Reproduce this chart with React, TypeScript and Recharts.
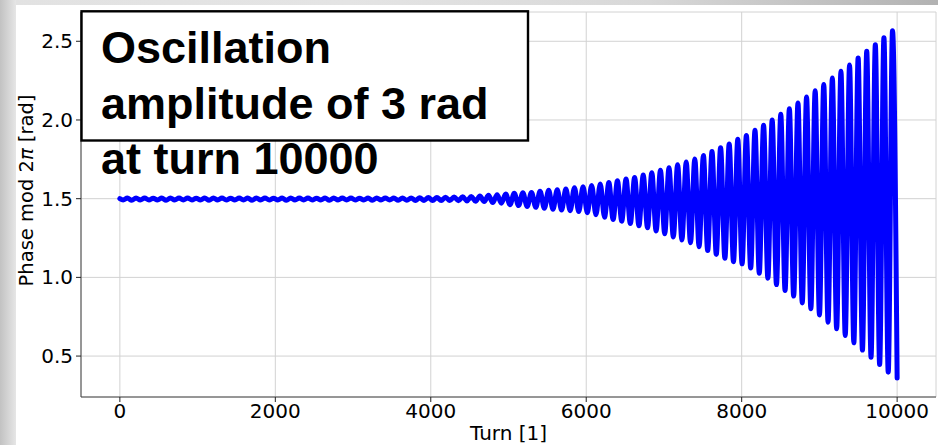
import React from "react";
import { LineChart, Line, XAxis, YAxis, CartesianGrid, Label } from "recharts";

// ---- data ----
const turnTicks = [0, 2000, 4000, 6000, 8000, 10000];
const phaseTicks = [0.5, 1.0, 1.5, 2.0, 2.5];

const START_TURN = 0;
const START_PHASE = 1.5;
const FIRST_TROUGH_TURN = 42;
const OSC_PERIOD_TURNS = 110.6;
const LAST_TURN = 10000;

// phase at each oscillation maximum (one per period)
const peakPhases = [
  1.504, 1.505, 1.504, 1.503, 1.504, 1.505, 1.504, 1.504, 1.503, 1.504,
  1.505, 1.504, 1.503, 1.504, 1.504, 1.505, 1.504, 1.503, 1.504, 1.505,
  1.504, 1.504, 1.503, 1.504, 1.505, 1.504, 1.504, 1.503, 1.504, 1.505,
  1.504,
  1.504, 1.505, 1.505, 1.506, 1.507, 1.508, 1.509, 1.511, 1.512, 1.514,
  1.517, 1.521, 1.525, 1.53, 1.534, 1.538, 1.54, 1.547, 1.553, 1.557,
  1.561, 1.57, 1.576, 1.584, 1.593,
  1.602, 1.614, 1.625, 1.635, 1.65, 1.665, 1.68, 1.697, 1.716, 1.733,
  1.752, 1.775, 1.799, 1.824, 1.848, 1.877,
  1.902, 1.934, 1.966, 2.0, 2.036, 2.072, 2.108, 2.146, 2.186, 2.226,
  2.267, 2.309, 2.349, 2.394, 2.436, 2.478, 2.523, 2.567,
];

// phase at each oscillation minimum (one per period, last one at turn 10000)
const troughPhases = [
  1.491, 1.49, 1.491, 1.492, 1.491, 1.49, 1.491, 1.491, 1.492, 1.491,
  1.49, 1.491, 1.492, 1.491, 1.491, 1.49, 1.491, 1.492, 1.491, 1.49,
  1.491, 1.491, 1.492, 1.491, 1.49, 1.491, 1.491, 1.492, 1.491, 1.49,
  1.491,
  1.491, 1.49, 1.49, 1.489, 1.489, 1.488, 1.488, 1.488, 1.487, 1.486,
  1.484,
  1.482, 1.475, 1.471, 1.462, 1.456, 1.45, 1.445, 1.439, 1.433, 1.428,
  1.424, 1.418, 1.411, 1.398,
  1.382, 1.368, 1.357, 1.342, 1.328, 1.315, 1.295, 1.277, 1.257, 1.238,
  1.22, 1.194, 1.17, 1.146, 1.121, 1.1,
  1.086, 1.059, 1.027, 0.995, 0.954, 0.916, 0.881, 0.838, 0.8, 0.761,
  0.715, 0.673, 0.63, 0.584, 0.538, 0.493, 0.446, 0.398, 0.36,
];

const titleLines = ["Oscillation", "amplitude of 3 rad", "at turn 10000"];
const xAxisTitle = "Turn [1]";
const yAxisTitleBefore = "Phase mod 2";
const yAxisTitlePi = "π";
const yAxisTitleAfter = " [rad]";

function buildData() {
  const rows: { turn: number; phase: number }[] = [
    { turn: START_TURN, phase: START_PHASE },
  ];
  for (let k = 0; k < troughPhases.length; k++) {
    const isLast = k === troughPhases.length - 1;
    rows.push({
      turn: isLast ? LAST_TURN : FIRST_TROUGH_TURN + k * OSC_PERIOD_TURNS,
      phase: troughPhases[k],
    });
    if (k < peakPhases.length) {
      rows.push({
        turn: FIRST_TROUGH_TURN + (k + 0.5) * OSC_PERIOD_TURNS,
        phase: peakPhases[k],
      });
    }
  }
  return rows;
}

const data = buildData();

const FONT = "'DejaVu Sans', sans-serif";

const renderYTitle = (props: any) => {
  const vb = props.viewBox || { x: 0, y: 12, width: 81, height: 385 };
  const cx = 33;
  const cy = vb.y + vb.height / 2 - 14;
  return (
    <text
      x={cx}
      y={cy}
      transform={`rotate(-90, ${cx}, ${cy})`}
      textAnchor="middle"
      fontFamily={FONT}
      fontSize={19.5}
      fill="#000"
    >
      {yAxisTitleBefore}
      <tspan fontStyle="italic">{yAxisTitlePi}</tspan>
      {yAxisTitleAfter}
    </text>
  );
};

const renderXTitle = (props: any) => {
  const vb = props.viewBox || { x: 81, y: 397, width: 855, height: 48 };
  return (
    <text
      x={vb.x + vb.width / 2}
      y={440}
      textAnchor="middle"
      fontFamily={FONT}
      fontSize={20}
      fill="#000"
    >
      {xAxisTitle}
    </text>
  );
};

export default function App() {
  return (
    <div
      style={{
        position: "absolute",
        left: 0,
        top: 0,
        width: 938,
        height: 445,
        overflow: "hidden",
        background:
          "linear-gradient(to right, #e2e2e2 0px, #e4e4e4 350px, #d8d8d8 650px, #b2b2b2 938px)",
      }}
    >
      <div
        style={{
          position: "absolute",
          left: 0,
          top: 0,
          width: 16,
          height: 445,
          background: "linear-gradient(to right, #c2c2c2 0px, #e6e6e6 16px)",
        }}
      />
      <div
        style={{
          position: "absolute",
          left: 16,
          top: 5,
          width: 922,
          height: 440,
          background: "#ffffff",
        }}
      />
      <div style={{ position: "absolute", left: 0, top: 0 }}>
        <LineChart
          width={938}
          height={445}
          data={data}
          margin={{ top: 12, right: 2, bottom: 0, left: 0 }}
        >
          <CartesianGrid stroke="#d2d2d2" strokeWidth={1} />
          <XAxis
            dataKey="turn"
            type="number"
            domain={[-500, 10500]}
            ticks={turnTicks}
            allowDataOverflow
            height={48}
            tickSize={5}
            tickMargin={2}
            stroke="#444"
            tick={{ fill: "#000", fontSize: 20, fontFamily: FONT }}
            tickLine={{ stroke: "#222" }}
          >
            <Label content={renderXTitle} />
          </XAxis>
          <XAxis
            xAxisId="top"
            orientation="top"
            type="number"
            dataKey="turn"
            domain={[-500, 10500]}
            height={0}
            tick={false}
            tickLine={false}
            stroke="#444"
          />
          <YAxis
            type="number"
            domain={[0.24, 2.686]}
            ticks={phaseTicks}
            allowDataOverflow
            width={81}
            tickSize={5}
            tickMargin={3}
            stroke="#444"
            tickFormatter={(v: number) => v.toFixed(1)}
            tick={{ fill: "#000", fontSize: 20, fontFamily: FONT }}
            tickLine={{ stroke: "#222" }}
          >
            <Label content={renderYTitle} />
          </YAxis>
          <YAxis
            yAxisId="right"
            orientation="right"
            type="number"
            domain={[0.24, 2.686]}
            width={0}
            tick={false}
            tickLine={false}
            stroke="#444"
          />
          <Line
            type="monotone"
            dataKey="phase"
            stroke="#0000ff"
            strokeWidth={5}
            strokeLinecap="round"
            strokeLinejoin="round"
            dot={false}
            activeDot={false}
            isAnimationActive={false}
          />
        </LineChart>
      </div>
      <svg
        width={938}
        height={445}
        style={{ position: "absolute", left: 0, top: 0, pointerEvents: "none" }}
      >
        <rect
          x={81.5}
          y={11.3}
          width={446.5}
          height={129.2}
          fill="#ffffff"
          stroke="#000"
          strokeWidth={2.4}
        />
        {titleLines.map((line, i) => (
          <text
            key={i}
            x={101}
            y={[63, 119, 174][i]}
            fontFamily="'Liberation Sans', Arial, sans-serif"
            fontWeight="bold"
            fontSize={45}
            fill="#000"
          >
            {line}
          </text>
        ))}
      </svg>
    </div>
  );
}
